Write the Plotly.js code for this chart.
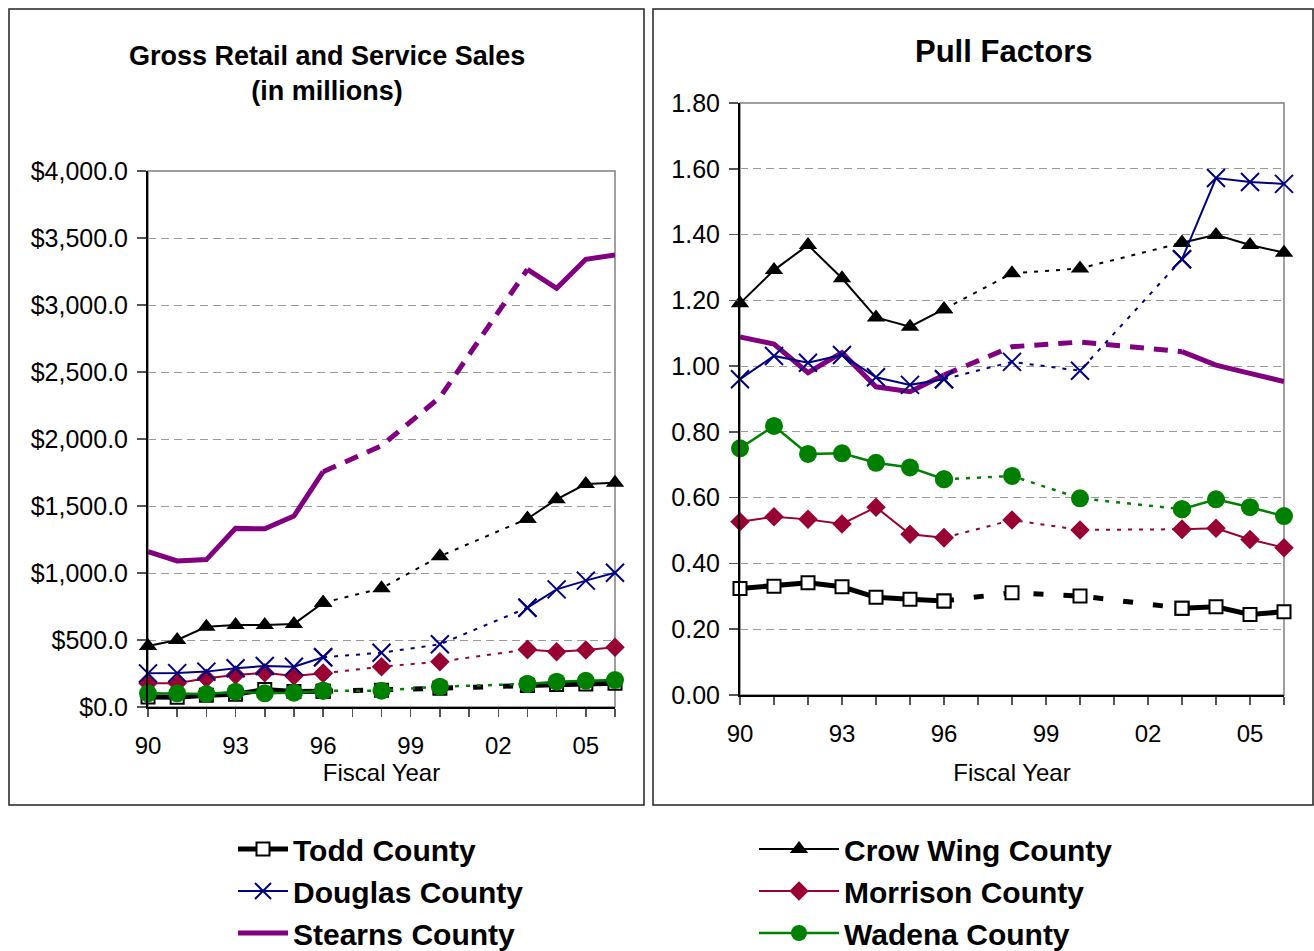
<!DOCTYPE html>
<html>
<head>
<meta charset="utf-8">
<script src="https://cdn.plot.ly/plotly-3.0.1.min.js"></script>
<style>html,body{margin:0;padding:0;background:#fff;}#chart{width:1314px;height:951px;}</style>
</head>
<body>
<div id="chart"></div>
<script>
// ---- data ----
var years = [1990, 1991, 1992, 1993, 1994, 1995, 1996, 1998, 2000, 2003, 2004, 2005, 2006];
var tickYears = [1990, 1991, 1992, 1993, 1994, 1995, 1996, 1997, 1998, 1999, 2000, 2001, 2002, 2003, 2004, 2005, 2006];
var tickLabels = ['90', '', '', '93', '', '', '96', '', '', '99', '', '', '02', '', '', '05', ''];
var countyNames = ['Todd County', 'Douglas County', 'Stearns County', 'Crow Wing County', 'Morrison County', 'Wadena County'];

// Gross retail and service sales (millions of dollars)
var salesTodd     = [75, 72, 88, 95, 130, 115, 118, 125, 140, 160, 168, 172, 178];
var salesDouglas  = [251, 253, 264, 289, 306, 300, 371, 405, 468, 741, 878, 943, 1002];
var salesStearns  = [1160, 1090, 1100, 1333, 1330, 1425, 1756, 1950, 2310, 3266, 3124, 3341, 3373];
var salesCrowWing = [455, 500, 599, 612, 612, 620, 778, 886, 1125, 1405, 1550, 1664, 1674];
var salesMorrison = [177, 177, 214, 239, 256, 231, 251, 301, 338, 430, 413, 425, 445];
var salesWadena   = [102, 102, 97, 114, 102, 107, 122, 122, 152, 172, 189, 196, 201];

// Pull factors
var pullTodd     = [0.324, 0.331, 0.341, 0.329, 0.297, 0.291, 0.286, 0.311, 0.301, 0.264, 0.268, 0.245, 0.253];
var pullDouglas  = [0.960, 1.031, 1.010, 1.034, 0.966, 0.943, 0.960, 1.013, 0.986, 1.325, 1.572, 1.560, 1.554];
var pullStearns  = [1.089, 1.067, 0.980, 1.041, 0.937, 0.922, 0.973, 1.059, 1.073, 1.044, 1.003, 0.978, 0.953];
var pullCrowWing = [1.191, 1.292, 1.368, 1.267, 1.148, 1.120, 1.173, 1.282, 1.297, 1.375, 1.399, 1.368, 1.345];
var pullMorrison = [0.527, 0.542, 0.534, 0.520, 0.571, 0.489, 0.478, 0.532, 0.502, 0.504, 0.507, 0.473, 0.448];
var pullWadena   = [0.750, 0.818, 0.733, 0.735, 0.706, 0.692, 0.656, 0.666, 0.598, 0.565, 0.595, 0.571, 0.544];

// years drawn as a broken line between reported segments
var bridgeYears = [1996, 1998, 2000, 2003];
var estimatedYears = [1998, 2000];

// ---- styles ----
var W = 1314, H = 951;
var FONT = 'Liberation Sans, Arial, Helvetica, sans-serif';
var styles = {
  'Todd County':      {color: '#000000', width: 5,   dash: '10px,20px', marker: {symbol: 'square', size: 13, color: '#ffffff', line: {color: '#000000', width: 2}}},
  'Douglas County':   {color: '#000080', width: 2,   dash: '4px,7px',   marker: {symbol: 'x-thin', size: 18, color: '#000080', line: {color: '#000080', width: 2}}},
  'Stearns County':   {color: '#800080', width: 5,   dash: '14px,10px', marker: null},
  'Crow Wing County': {color: '#000000', width: 2,   dash: '4px,7px',   marker: {symbol: 'triangle-up', size: 16, color: '#000000'}},
  'Morrison County':  {color: '#990033', width: 2,   dash: '4px,7px',   marker: {symbol: 'diamond', size: 15, color: '#990033'}},
  'Wadena County':    {color: '#008000', width: 2.5, dash: '4px,7px',   marker: {symbol: 'circle', size: 18, color: '#008000'}}
};
var legendOf = {
  'Todd County': 'legend', 'Douglas County': 'legend', 'Stearns County': 'legend',
  'Crow Wing County': 'legend2', 'Morrison County': 'legend2', 'Wadena County': 'legend2'
};

var salesData = {
  'Todd County': salesTodd, 'Douglas County': salesDouglas, 'Stearns County': salesStearns,
  'Crow Wing County': salesCrowWing, 'Morrison County': salesMorrison, 'Wadena County': salesWadena
};
var pullData = {
  'Todd County': pullTodd, 'Douglas County': pullDouglas, 'Stearns County': pullStearns,
  'Crow Wing County': pullCrowWing, 'Morrison County': pullMorrison, 'Wadena County': pullWadena
};

function makeTraces(name, values, xa, ya, showLegend) {
  var st = styles[name];
  var mode = st.marker ? 'lines+markers' : 'lines';
  var solidY = years.map(function (yr, i) { return estimatedYears.indexOf(yr) >= 0 ? null : values[i]; });
  var bx = [], by = [];
  years.forEach(function (yr, i) { if (bridgeYears.indexOf(yr) >= 0) { bx.push(yr); by.push(values[i]); } });
  var solid = {
    type: 'scatter', mode: mode, name: name, x: years, y: solidY, xaxis: xa, yaxis: ya,
    connectgaps: false, cliponaxis: false,
    line: {color: st.color, width: st.width},
    showlegend: showLegend, legend: legendOf[name], legendgroup: name
  };
  var bridge = {
    type: 'scatter', mode: mode, name: name, x: bx, y: by, xaxis: xa, yaxis: ya,
    cliponaxis: false,
    line: {color: st.color, width: st.width, dash: st.dash},
    showlegend: false, legendgroup: name
  };
  if (st.marker) { solid.marker = st.marker; bridge.marker = st.marker; }
  return [bridge, solid];
}

var drawOrder = ['Todd County', 'Stearns County', 'Crow Wing County', 'Morrison County', 'Douglas County', 'Wadena County'];
var traces = [];
drawOrder.forEach(function (n) { traces = traces.concat(makeTraces(n, salesData[n], 'x', 'y', true)); });
drawOrder.forEach(function (n) { traces = traces.concat(makeTraces(n, pullData[n], 'x2', 'y2', false)); });
var legendRank = {};
countyNames.forEach(function (n, i) { legendRank[n] = i; });
traces.forEach(function (t) { t.legendrank = legendRank[t.name]; });

function px(x) { return x / W; }
function py(y) { return 1 - y / H; }

function xAxis(domain, anchor, titleStandoff) {
  return {
    domain: domain, anchor: anchor, range: [1990, 2006],
    tickmode: 'array', tickvals: tickYears, ticktext: tickLabels,
    ticks: 'outside', ticklen: 8, tickcolor: '#555555', tickwidth: 1.5,
    showline: true, linecolor: '#000000', linewidth: 2, showgrid: false, zeroline: false,
    tickfont: {size: 24, color: '#000000', family: FONT}, ticklabelstandoff: 8,
    title: {text: 'Fiscal Year', font: {size: 24, color: '#000000', family: FONT}, standoff: titleStandoff}
  };
}
function yAxis(domain, anchor, range, dtick, fmt) {
  return {
    domain: domain, anchor: anchor, range: range, dtick: dtick, tick0: 0, tickformat: fmt,
    ticks: 'outside', ticklen: 9, tickcolor: '#555555', tickwidth: 1.5,
    showline: true, linecolor: '#000000', linewidth: 2, zeroline: false,
    showgrid: true, gridcolor: '#9a9a9a', gridwidth: 1, griddash: '8px,5px',
    tickfont: {size: 25, color: '#000000', family: FONT}, ticklabelstandoff: 4
  };
}

var layout = {
  width: W, height: H,
  margin: {l: 0, r: 0, t: 0, b: 0, autoexpand: false},
  paper_bgcolor: '#ffffff', plot_bgcolor: '#ffffff',
  font: {family: FONT, color: '#000000'},
  xaxis: xAxis([px(148), px(615)], 'y', 1),
  yaxis: yAxis([py(707), py(171)], 'x', [0, 4000], 500, '$,.1f'),
  xaxis2: xAxis([px(740), px(1284)], 'y2', 18),
  yaxis2: yAxis([py(695), py(103)], 'x2', [0, 1.8], 0.2, '.2f'),
  legend: {
    x: px(233), y: py(823), xanchor: 'left', yanchor: 'top', orientation: 'v',
    itemwidth: 50, bgcolor: 'rgba(0,0,0,0)', borderwidth: 0, traceorder: 'normal',
    font: {size: 30, family: FONT, color: '#000000', weight: 'bold'}
  },
  legend2: {
    x: px(754), y: py(823), xanchor: 'left', yanchor: 'top', orientation: 'v',
    itemwidth: 80, bgcolor: 'rgba(0,0,0,0)', borderwidth: 0, traceorder: 'normal',
    font: {size: 30, family: FONT, color: '#000000', weight: 'bold'}
  },
  annotations: [
    {text: 'Gross Retail and Service Sales<br>(in millions)', xref: 'paper', yref: 'paper',
     x: px(327), y: py(74), xanchor: 'center', yanchor: 'middle', showarrow: false,
     font: {size: 27, family: FONT, color: '#000000', weight: 'bold'}},
    {text: 'Pull Factors', xref: 'paper', yref: 'paper',
     x: px(1003), y: py(52), xanchor: 'center', yanchor: 'middle', showarrow: false,
     font: {size: 31, family: FONT, color: '#000000', weight: 'bold'}}
  ],
  shapes: [
    {type: 'rect', xref: 'paper', yref: 'paper', x0: px(9), x1: px(644), y0: py(805), y1: py(9),
     line: {color: '#222222', width: 1.5}, layer: 'below'},
    {type: 'rect', xref: 'paper', yref: 'paper', x0: px(653), x1: px(1313), y0: py(805), y1: py(9),
     line: {color: '#222222', width: 1.5}, layer: 'below'},
    {type: 'rect', xref: 'x domain', yref: 'y domain', x0: 0, x1: 1, y0: 0, y1: 1,
     line: {color: '#808080', width: 1.5}, layer: 'below'},
    {type: 'rect', xref: 'x2 domain', yref: 'y2 domain', x0: 0, x1: 1, y0: 0, y1: 1,
     line: {color: '#808080', width: 1.5}, layer: 'below'}
  ],
  showlegend: true
};

Plotly.newPlot('chart', traces, layout, {displayModeBar: false, staticPlot: true});
</script>
</body>
</html>
